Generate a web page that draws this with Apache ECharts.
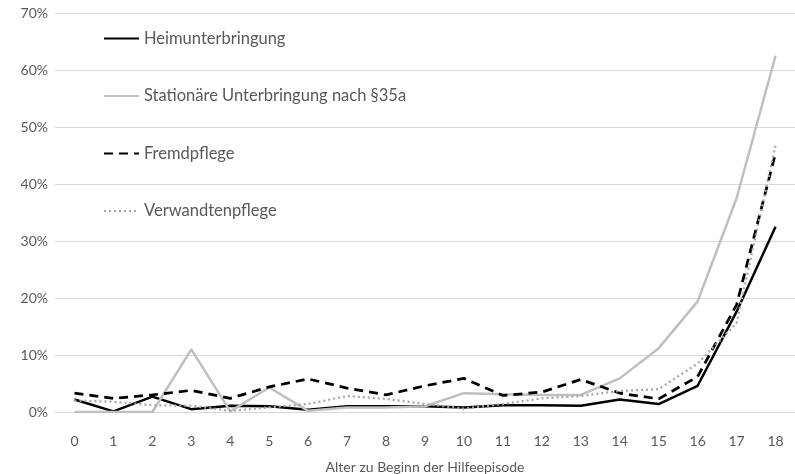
<!DOCTYPE html>
<html><head><meta charset="utf-8">
<script src="https://cdn.jsdelivr.net/npm/echarts@6/dist/echarts.min.js"></script>
<style>html,body{margin:0;padding:0;background:#fff}#c{width:795px;height:474px}</style>
</head><body><div id="c"></div>
<script>
var categories = ['0','1','2','3','4','5','6','7','8','9','10','11','12','13','14','15','16','17','18'];
var heim = [2.2,0.1,2.7,0.5,1.1,1.0,0.4,1.0,1.0,1.0,0.8,1.2,1.2,1.1,2.2,1.4,4.6,17.6,32.5];
var stationaer = [0,0,0,11.0,0.1,4.3,0.2,0.8,0.8,1.0,3.3,3.1,3.0,3.0,5.9,11.2,19.4,37.5,62.5];
var fremd = [3.3,2.4,3.0,3.8,2.4,4.4,5.8,4.2,3.0,4.6,5.9,2.9,3.5,5.7,3.3,2.3,6.2,18.8,45.4];
var verwandt = [2.0,1.8,1.2,1.1,0.2,0.8,1.4,2.8,2.3,1.4,0.6,1.4,2.4,2.8,3.7,4.0,8.5,15.6,46.8];
var names = ['Heimunterbringung','Stationäre Unterbringung nach §35a','Fremdpflege','Verwandtenpflege'];

var font = 'Lato';
var chart = echarts.init(document.getElementById('c'));
function s(name, data, color, type, width){
  return {name:name,type:'line',data:data,symbol:'none',showSymbol:false,
    lineStyle:{color:color,width:width,type:type},itemStyle:{color:color},animation:false};
}
chart.setOption({
  animation:false,
  grid:{left:55,right:0,top:13,bottom:62,containLabel:false,outerBoundsMode:'none'},
  legend:{orient:'vertical',left:103,top:30,padding:0,itemWidth:35,itemHeight:20,itemGap:40.5,
    itemStyle:{opacity:0},
    textStyle:{fontFamily:font,fontSize:16.5,color:'#595959'},
    data:names},
  xAxis:{type:'category',data:categories,boundaryGap:true,
    axisLine:{show:true,lineStyle:{color:'#d9d9d9'}},axisTick:{show:false},
    axisLabel:{fontFamily:font,fontSize:14,color:'#595959',margin:22},
    name:'Alter zu Beginn der Hilfeepisode',nameLocation:'middle',nameGap:48,
    nameTextStyle:{fontFamily:font,fontSize:14,color:'#595959'}},
  yAxis:{type:'value',min:0,max:70,interval:10,
    axisLine:{show:false},axisTick:{show:false},
    axisLabel:{fontFamily:font,fontSize:14,color:'#595959',margin:7,formatter:'{value}%'},
    splitLine:{lineStyle:{color:'#d9d9d9',width:1}}},
  series:[
    s(names[0],heim,'#000000','solid',2.5),
    s(names[1],stationaer,'#bfbfbf','solid',2.5),
    s(names[2],fremd,'#000000',[9,6],2.75),
    s(names[3],verwandt,'#a6a6a6',[2,3],2.25)
  ]
});
</script></body></html>
